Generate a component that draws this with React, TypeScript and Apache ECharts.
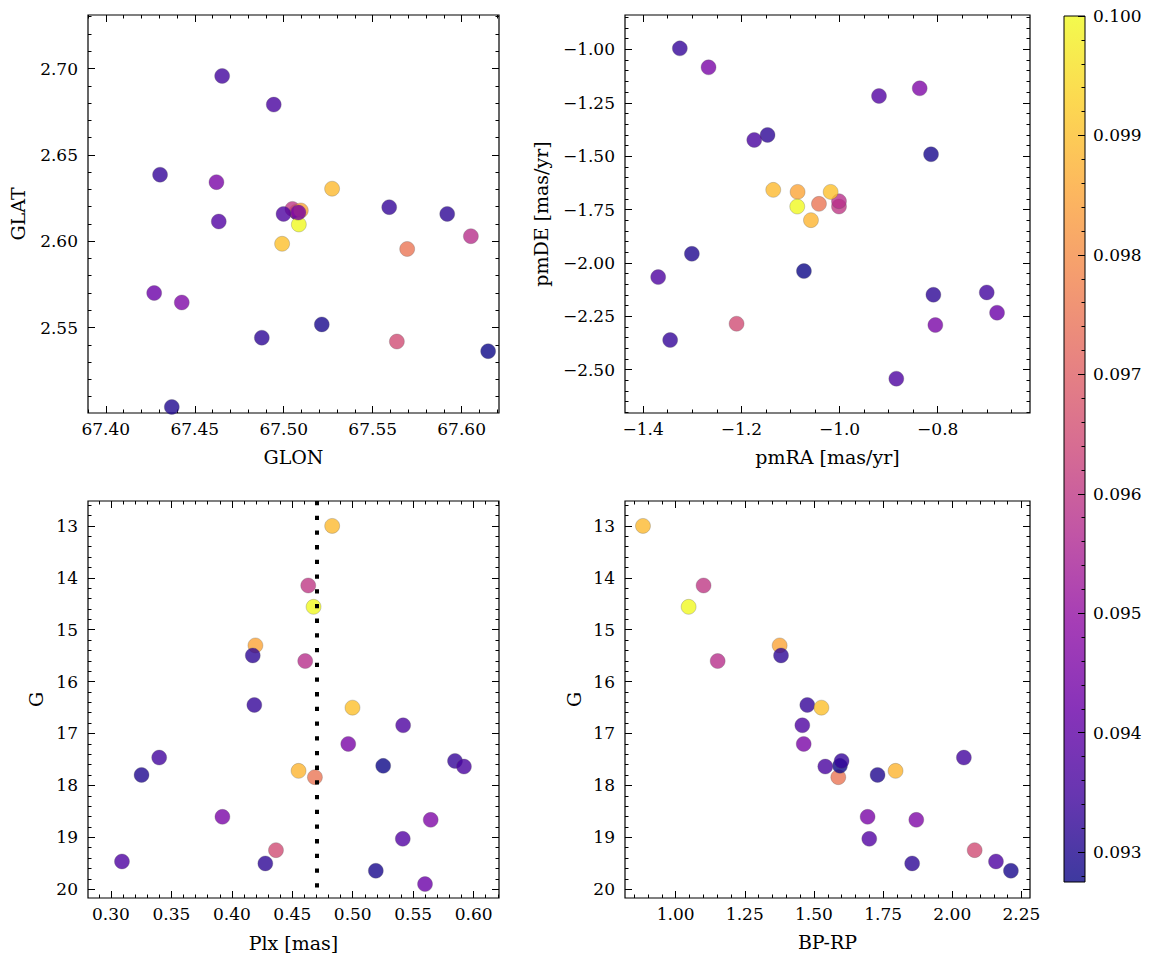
import React, { useEffect, useRef } from "react";
import * as echarts from "echarts";

// ---- Data (one entry per star, same order in every array) ----
const STAR_IDS = ["M", "V", "A", "B", "D", "C", "E", "F", "G", "H", "I", "J", "K", "L", "N", "O", "P", "Q", "R", "S", "T", "U", "W", "X", "Y"];
const GLON = [67.507, 67.5075, 67.5272, 67.5049, 67.5096, 67.5085, 67.4877, 67.6052, 67.5593, 67.4991, 67.4999, 67.4622, 67.4654, 67.4371, 67.5694, 67.6149, 67.4305, 67.4944, 67.5083, 67.4427, 67.4635, 67.5636, 67.5919, 67.5214, 67.4272];
const GLAT = [2.617, 2.6165, 2.6304, 2.6187, 2.6178, 2.6097, 2.5441, 2.6029, 2.6197, 2.5985, 2.6158, 2.6342, 2.6957, 2.504, 2.5955, 2.5363, 2.6385, 2.6791, 2.6166, 2.5645, 2.6114, 2.5419, 2.6158, 2.5518, 2.57];
const PMRA = [-1.0582, -1.3694, -1.135, -1.0011, -1.0854, -1.0861, -1.1466, -1.0011, -1.3253, -1.0181, -0.8843, -1.2668, -0.7001, -1.3008, -1.0419, -1.0725, -1.345, -1.1737, -0.8048, -0.8367, -0.9196, -1.2097, -0.8088, -0.8136, -0.6791];
const PMDE = [-1.7999, -2.0666, -1.658, -1.736, -1.6674, -1.736, -1.4007, -1.7111, -0.9953, -1.6674, -2.5422, -1.0842, -2.1383, -1.9574, -1.7235, -2.0385, -2.3613, -1.4241, -2.2911, -1.1824, -1.2183, -2.2849, -2.1492, -1.4912, -2.2334];
const PLX = [0.4552, 0.3091, 0.483, 0.4632, 0.4195, 0.4676, 0.4173, 0.4607, 0.4186, 0.4998, 0.5417, 0.4963, 0.3399, 0.3253, 0.4687, 0.5252, 0.5846, 0.592, 0.3922, 0.5645, 0.5414, 0.4365, 0.4277, 0.5191, 0.5598];
const GMAG = [17.72, 19.466, 13.0, 14.148, 15.303, 14.559, 15.496, 15.604, 16.45, 16.502, 16.842, 17.201, 17.464, 17.798, 17.842, 17.624, 17.528, 17.637, 18.606, 18.664, 19.03, 19.248, 19.504, 19.645, 19.902];
const BPRP: (number | null)[] = [1.795, 2.158, 0.882, 1.101, 1.376, 1.047, 1.381, 1.152, 1.476, 1.527, 1.458, 1.463, 2.042, 1.73, 1.588, 1.594, 1.6, 1.541, 1.694, 1.87, 1.7, 2.081, 1.855, 2.212, null];
const CVAL = [0.0988, 0.0937, 0.0989, 0.096, 0.0985, 0.1, 0.0932, 0.0958, 0.0933, 0.099, 0.0937, 0.0945, 0.0935, 0.093, 0.0975, 0.09275, 0.0933, 0.0936, 0.0945, 0.0946, 0.0938, 0.0965, 0.0932, 0.0929, 0.0942];
const PLX_LINE = 0.4674;

// colour scale range
const C_MIN = 0.09275;
const C_MAX = 0.1;
const PLASMA = ["#0d0887", "#41049d", "#6a00a8", "#8f0da4", "#b12a90", "#cc4778", "#e16462", "#f2844b", "#fca636", "#fcce25", "#f0f921"];

// ---- Tick labels ----
const GLON_TICKS = [67.4, 67.45, 67.5, 67.55, 67.6];
const GLAT_TICKS = [2.55, 2.6, 2.65, 2.7];
const PMRA_TICKS = [-1.4, -1.2, -1.0, -0.8];
const PMDE_TICKS = [-2.5, -2.25, -2.0, -1.75, -1.5, -1.25, -1.0];
const PLX_TICKS = [0.3, 0.35, 0.4, 0.45, 0.5, 0.55, 0.6];
const G_TICKS = [13, 14, 15, 16, 17, 18, 19, 20];
const BPRP_TICKS = [1.0, 1.25, 1.5, 1.75, 2.0, 2.25];
const CBAR_TICKS = [0.093, 0.094, 0.095, 0.096, 0.097, 0.098, 0.099, 0.1];

function steps(a: number, b: number, s: number): number[] {
  const out: number[] = [];
  const n = Math.round((b - a) / s);
  for (let i = 0; i <= n; i++) out.push(+(a + i * s).toFixed(6));
  return out;
}

const FONT = "'DejaVu Serif', serif";
const minus = (s: string) => s.replace("-", "\u2212");
const fmt = (d: number) => (v: number) => minus(Number(v).toFixed(d));

function withAlpha(hex: string, a: number) {
  const r = parseInt(hex.slice(1, 3), 16);
  const g = parseInt(hex.slice(3, 5), 16);
  const b = parseInt(hex.slice(5, 7), 16);
  return `rgba(${r},${g},${b},${a})`;
}

type AxCfg = {
  min: number;
  max: number;
  major: number[];
  minor: number[];
  fmt: (v: number) => string;
  name?: string;
  nameGap?: number;
  inverse?: boolean;
};

function addAxes(list: any[], gridIndex: number, isX: boolean, c: AxCfg): number {
  const mainIdx = list.length;
  const [p1, p2] = isX ? ["bottom", "top"] : ["left", "right"];
  const base = {
    type: "value",
    gridIndex,
    min: c.min,
    max: c.max,
    inverse: !!c.inverse,
    splitLine: { show: false },
    axisLine: { show: false, onZero: false },
  };
  const tick = (vals: number[], len: number) => ({
    show: true,
    inside: true,
    length: len,
    customValues: vals,
    lineStyle: { color: "#000", width: 1 },
  });
  list.push({
    ...base,
    position: p1,
    name: c.name,
    nameLocation: "middle",
    nameGap: c.nameGap,
    nameTextStyle: { fontSize: 19, color: "#000", fontFamily: FONT },
    axisTick: tick(c.major, 7),
    axisLabel: {
      show: true,
      customValues: c.major,
      formatter: c.fmt,
      margin: isX ? 7 : 10,
      fontSize: 17,
      color: "#000",
      fontFamily: FONT,
    },
  });
  list.push({ ...base, position: p1, axisTick: tick(c.minor, 3.5), axisLabel: { show: false } });
  list.push({ ...base, position: p2, axisTick: tick(c.major, 7), axisLabel: { show: false } });
  list.push({ ...base, position: p2, axisTick: tick(c.minor, 3.5), axisLabel: { show: false } });
  return mainIdx;
}

export default function App() {
  const ref = useRef<HTMLDivElement>(null);

  useEffect(() => {
    if (!ref.current) return;
    const chart = echarts.init(ref.current, undefined, { renderer: "svg" });

    const grids = [
      { left: 88, top: 15, width: 411, height: 398 },
      { left: 625, top: 15, width: 405, height: 398 },
      { left: 88, top: 501, width: 411, height: 397 },
      { left: 625, top: 501, width: 405, height: 397 },
    ].map((g) => ({ ...g, show: true, borderColor: "#000", borderWidth: 1.2, backgroundColor: "transparent", containLabel: false }));

    const cbarGrid = {
      left: 1064,
      top: 16,
      width: 21,
      height: 866,
      show: true,
      borderColor: "#000",
      borderWidth: 1,
      containLabel: false,
      backgroundColor: new echarts.graphic.LinearGradient(
        0,
        1,
        0,
        0,
        PLASMA.map((c, i) => ({ offset: i / (PLASMA.length - 1), color: withAlpha(c, 0.8) }))
      ),
    };

    const xAxes: any[] = [];
    const yAxes: any[] = [];

    const x0 = addAxes(xAxes, 0, true, { min: 67.39, max: 67.621, major: GLON_TICKS, minor: steps(67.39, 67.62, 0.01), fmt: fmt(2), name: "GLON", nameGap: 34 });
    const y0 = addAxes(yAxes, 0, false, { min: 2.5005, max: 2.731, major: GLAT_TICKS, minor: steps(2.51, 2.73, 0.01), fmt: fmt(2), name: "GLAT", nameGap: 61 });
    const x1 = addAxes(xAxes, 1, true, { min: -1.437, max: -0.612, major: PMRA_TICKS, minor: steps(-1.4, -0.65, 0.05), fmt: fmt(1), name: "pmRA [mas/yr]", nameGap: 34 });
    const y1 = addAxes(yAxes, 1, false, { min: -2.703, max: -0.839, major: PMDE_TICKS, minor: steps(-2.7, -0.85, 0.05), fmt: fmt(2), name: "pmDE [mas/yr]", nameGap: 75 });
    const x2 = addAxes(xAxes, 2, true, { min: 0.281, max: 0.621, major: PLX_TICKS, minor: steps(0.29, 0.62, 0.01), fmt: fmt(2), name: "Plx [mas]", nameGap: 35 });
    const y2 = addAxes(yAxes, 2, false, { min: 12.52, max: 20.17, major: G_TICKS, minor: steps(12.6, 20.0, 0.2), fmt: fmt(0), name: "G", nameGap: 43, inverse: true });
    const x3 = addAxes(xAxes, 3, true, { min: 0.817, max: 2.281, major: BPRP_TICKS, minor: steps(0.85, 2.25, 0.05), fmt: fmt(2), name: "BP-RP", nameGap: 34 });
    const y3 = addAxes(yAxes, 3, false, { min: 12.52, max: 20.17, major: G_TICKS, minor: steps(12.6, 20.0, 0.2), fmt: fmt(0), name: "G", nameGap: 42, inverse: true });

    // colour bar axes
    xAxes.push({ type: "value", gridIndex: 4, show: false, min: 0, max: 1 });
    const cbBase = {
      type: "value",
      gridIndex: 4,
      position: "right",
      min: C_MIN,
      max: C_MAX,
      splitLine: { show: false },
      axisLine: { show: false, onZero: false },
    };
    yAxes.push({
      ...cbBase,
      axisTick: { show: true, inside: true, length: 7, customValues: CBAR_TICKS, lineStyle: { color: "#000", width: 1 } },
      axisLabel: { show: true, customValues: CBAR_TICKS, formatter: fmt(3), margin: 8, fontSize: 17, color: "#000", fontFamily: FONT },
    });
    yAxes.push({
      ...cbBase,
      axisTick: { show: true, inside: true, length: 3.5, customValues: steps(0.0928, 0.1, 0.0002), lineStyle: { color: "#000", width: 1 } },
      axisLabel: { show: false },
    });

    const idx = STAR_IDS.map((_, i) => i);
    const pts = (xs: (number | null)[], ys: number[]) =>
      idx.filter((i) => xs[i] !== null).map((i) => [xs[i] as number, ys[i], CVAL[i]]);

    const scatterBase = {
      type: "scatter",
      symbol: "circle",
      symbolSize: 15,
      itemStyle: { opacity: 0.8, borderColor: "rgba(90,90,90,0.7)", borderWidth: 0.5 },
      emphasis: { disabled: true },
      silent: true,
      z: 2,
    };

    const option: any = {
      animation: false,
      backgroundColor: "#fff",
      textStyle: { fontFamily: FONT },
      grid: [...grids, cbarGrid],
      xAxis: xAxes,
      yAxis: yAxes,
      visualMap: {
        type: "continuous",
        show: false,
        min: C_MIN,
        max: C_MAX,
        dimension: 2,
        seriesIndex: [0, 1, 2, 3],
        inRange: { color: PLASMA },
      },
      series: [
        { ...scatterBase, name: "GLON-GLAT", xAxisIndex: x0, yAxisIndex: y0, data: pts(GLON, GLAT) },
        { ...scatterBase, name: "pm", xAxisIndex: x1, yAxisIndex: y1, data: pts(PMRA, PMDE) },
        {
          ...scatterBase,
          name: "Plx-G",
          xAxisIndex: x2,
          yAxisIndex: y2,
          data: pts(PLX, GMAG),
          markLine: {
            silent: true,
            symbol: ["none", "none"],
            label: { show: false },
            z: 5,
            lineStyle: { color: "#000", width: 4, type: [4.3, 10.4], opacity: 1 },
            data: [{ xAxis: PLX_LINE }],
          },
        },
        { ...scatterBase, name: "CMD", xAxisIndex: x3, yAxisIndex: y3, data: pts(BPRP, GMAG) },
      ],
    };

    chart.setOption(option);
    return () => chart.dispose();
  }, []);

  return <div ref={ref} style={{ position: "absolute", left: 0, top: 0, width: 1155, height: 965, background: "#fff" }} />;
}
